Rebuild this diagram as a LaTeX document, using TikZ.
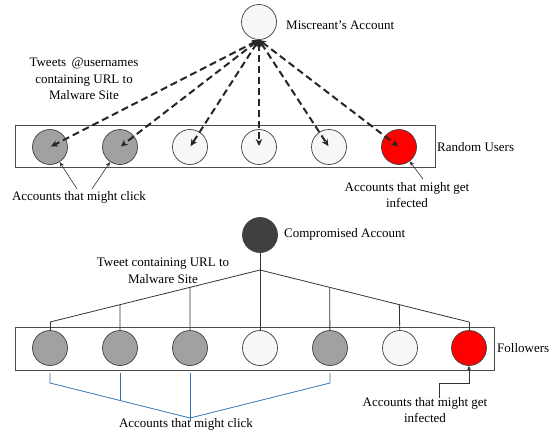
\documentclass[tikz,border=0pt]{standalone}
\usepackage{fontspec}
\setmainfont{Liberation Serif}
\usetikzlibrary{arrows.meta,calc}
\definecolor{bracketblue}{RGB}{46,117,182}
\begin{document}
\begin{tikzpicture}[x=1pt,y=-1pt,
 acct/.style={circle,draw=black!75,line width=0.7pt,minimum size=35pt,inner sep=0pt},
 grayacct/.style={acct,fill=black!37},
 whiteacct/.style={acct,fill=black!3},
 redacct/.style={acct,fill=red},
 darkacct/.style={acct,fill=black!75},
 lbl/.style={font=\fontsize{13}{16.5}\selectfont,inner sep=0pt,align=center},
 groupbox/.style={draw=black!70,line width=0.7pt,inner sep=0pt},
 tweetarrow/.style={draw=black!85,line width=2pt,dash pattern=on 7pt off 4pt,
   {Stealth[length=7pt,width=6.5pt]}-{Stealth[length=7pt,width=6.5pt]}},
 thinarrow/.style={draw=black!80,line width=0.6pt,-{Stealth[length=5pt,width=4pt]}},
 treeline/.style={draw=black!80,line width=0.8pt},
 bluebracket/.style={draw=bracketblue,line width=0.8pt}
]
\useasboundingbox (0,0) rectangle (552,432);

% ---------- top: Miscreant's account ----------
\node[groupbox,minimum width=420pt,minimum height=42pt] (topbox) at (225,146) {};
\node[whiteacct] (misc) at (259,22) {};
\node[lbl,anchor=west] (misclbl) at (286,25) {Miscreant’s Account};

\node[grayacct]  (t1) at (50,147) {};
\node[grayacct]  (t2) at (120,147) {};
\node[whiteacct] (t3) at (190,147) {};
\node[whiteacct] (t4) at (259,147) {};
\node[whiteacct] (t5) at (329,147) {};
\node[redacct]   (t6) at (399,147) {};

\foreach \t in {t1,t2,t3,t4,t5,t6}
  \draw[tweetarrow,shorten >=1pt] (misc.south) -- (\t.center);

\node[lbl] (tweetslbl) at (84,79) {Tweets\, @usernames\\containing URL to\\Malware Site};
\node[lbl,anchor=west] (randlbl) at (437,147) {Random Users};

\node[lbl] (clicktop) at (79,197) {Accounts that might click};
\coordinate (ctA) at (77,189);
\coordinate (ctB) at (92,189);
\draw[thinarrow] (ctA) -- (t1);
\draw[thinarrow] (ctB) -- (t2);

\node[lbl] (inftop) at (407,195) {Accounts that might get\\infected};
\coordinate (itA) at (423,179);
\draw[thinarrow] (itA) -- (t6);

% ---------- bottom: Compromised account ----------
\node[groupbox,minimum width=479pt,minimum height=43pt] (botbox) at (254.5,348.5) {};
\node[darkacct] (comp) at (260,235) {};
\node[lbl,anchor=west] (complbl) at (284,234) {Compromised Account};

\node[grayacct]  (f1) at (50,348) {};
\node[grayacct]  (f2) at (120,348) {};
\node[grayacct]  (f3) at (190,348) {};
\node[whiteacct] (f4) at (260,348) {};
\node[grayacct]  (f5) at (330,348) {};
\node[whiteacct] (f6) at (400,348) {};
\node[redacct]   (f7) at (469,348) {};

\coordinate (J) at (260,270);
\coordinate (L) at (50,322);
\coordinate (R) at (469,322);
\draw[treeline] (comp) -- (f4);
\draw[treeline] (L) -- (J) -- (R);
\draw[treeline] (L) -- (f1);
\draw[treeline] ($(J)!2/3!(L)$) -- (f2);
\draw[treeline] ($(J)!1/3!(L)$) -- (f3);
\draw[treeline] ($(J)!1/3!(R)$) -- (f5);
\draw[treeline] ($(J)!2/3!(R)$) -- (f6);
\draw[treeline] (R) -- (f7);

\node[lbl] (tweetlbl) at (163,271) {Tweet containing URL to\\Malware Site};
\node[lbl,anchor=west] (follbl) at (497,348) {Followers};

% blue bracket
\coordinate (BJ) at (190,418);
\coordinate (b1) at (50,373);
\coordinate (b1k) at (50,383);
\coordinate (b2) at (120,373);
\coordinate (b3) at (190,373);
\coordinate (b5) at (330,373);
\coordinate (b5k) at (330,383);
\draw[bluebracket] (b1) -- (b1k) -- (BJ);
\draw[bluebracket] (b5) -- (b5k) -- (BJ);
\draw[bluebracket] (b2) -- ($(b1k)!0.5!(BJ)$);
\draw[bluebracket] (b3) -- ($(BJ)+(0,3)$);
\node[lbl] (clickbot) at (186,424) {Accounts that might click};

% infected arrow bottom
\node[lbl] (infbot) at (425,410) {Accounts that might get\\infected};
\coordinate (ibA) at (439,398);
\coordinate (ibBend) at (469,383);
\draw[thinarrow] (ibA) |- (ibBend) -- (f7);
\end{tikzpicture}
\end{document}
